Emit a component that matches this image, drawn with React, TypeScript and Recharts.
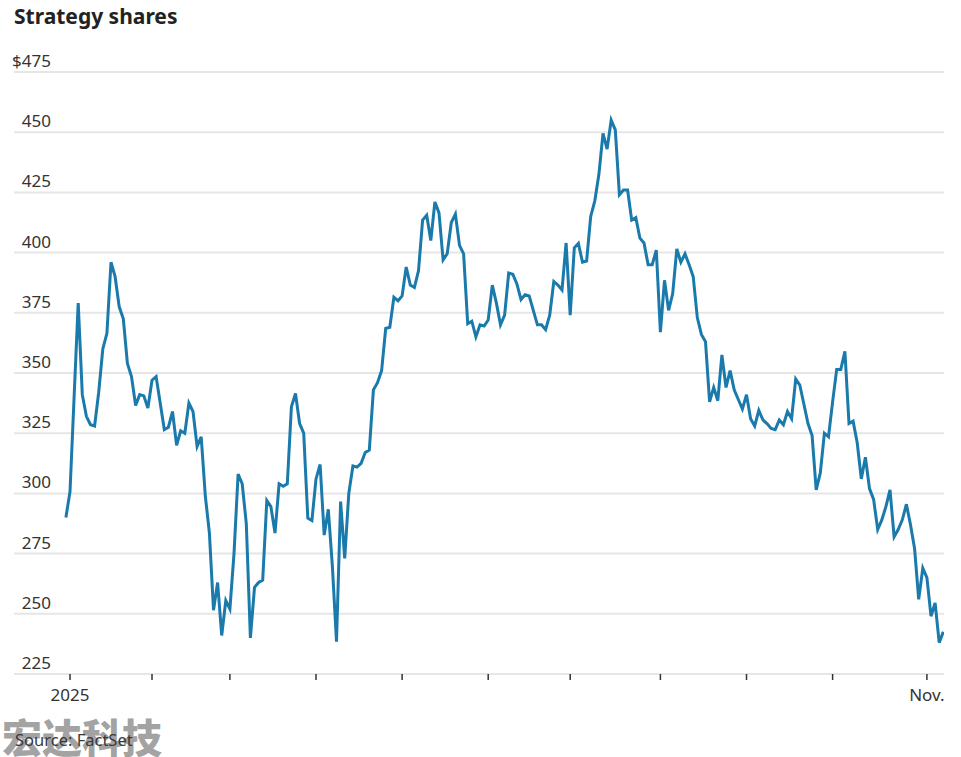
import React from 'react';
import { LineChart, Line, XAxis, YAxis, CartesianGrid } from 'recharts';

// daily closes, Dec 31 2024 through early Nov 2025
const prices = [
  290, 300.7, 340, 379, 341, 332, 328.5, 328, 342, 360,
  366.5, 396, 390, 377.5, 372.5, 354, 348.5, 336.5, 341, 340.5,
  335.5, 347, 348.5, 337.5, 326.5, 327.5, 334, 320, 326, 325,
  337.5, 334, 319.5, 323.5, 299, 283.5, 251.5, 263, 241, 255.5,
  252, 275, 308, 304, 287.5, 240, 261, 263, 264, 297,
  294.5, 283.5, 304, 303, 304, 336, 341.5, 329, 325, 289.7,
  288.7, 306, 312, 282.7, 293.4, 269.6, 238.4, 296.6, 273, 300,
  311.4, 310.9, 312.5, 317, 318, 343, 346, 351, 368.5, 369,
  381.5, 380, 382, 394, 386.5, 385.5, 392.5, 413.5, 415.5, 405,
  421, 416.5, 397, 399.5, 412.5, 416, 403, 399.5, 370.5, 371.5,
  365, 370, 369.5, 372, 386.5, 379, 370, 374, 391.5, 391,
  387, 380.5, 382.5, 382, 376, 370, 370, 368, 374, 388,
  386.5, 384.5, 404, 374, 402, 403.8, 396, 396.5, 415, 421.5,
  432.5, 449.5, 443, 455, 451, 424, 426, 426, 413.5, 414.5,
  406, 404, 395, 395, 401, 367, 388.5, 376, 383, 401.5,
  396, 399.5, 395, 390, 373, 366, 363, 338, 344, 338.5,
  357.5, 344, 351, 343, 339, 335, 341, 331, 328, 334.5,
  330.5, 329, 327, 326.5, 330.5, 328.5, 334, 331, 347.5, 345,
  337, 329, 324, 301.5, 308.5, 325, 323.5, 338, 351.5, 351.5,
  359, 329, 330, 321, 306, 315, 302, 297.5, 285, 289,
  294.5, 301.5, 282, 285, 289, 295.5, 287, 277, 256, 269,
  265, 249, 254.5, 238, 242.5,
];

// first trading day of each month, as index into prices
const monthTicks = [1, 21, 40, 61, 82, 103, 123, 145, 166, 187, 210];
const monthLabels = ['2025', '', '', '', '', '', '', '', '', '', 'Nov.'];

const yTicks = [225, 250, 275, 300, 325, 350, 375, 400, 425, 450, 475];

const data = prices.map((price, i) => ({ i, price }));

const tickFont = "'Noto Sans', sans-serif";

const YTick = (props: any) => {
  const { y, payload } = props;
  const v = payload.value;
  return (
    <text x={51} y={y - 5} textAnchor="end" fill="#333" fontSize={17} fontFamily={tickFont}>
      {v === 475 ? '$475' : v}
    </text>
  );
};

const XTick = (props: any) => {
  const { x, y, payload } = props;
  const idx = monthTicks.indexOf(payload.value);
  const label = monthLabels[idx] || '';
  return (
    <text x={x} y={y + 19} textAnchor="middle" fill="#333" fontSize={17} fontFamily={tickFont}>
      {label}
    </text>
  );
};

export default function App() {
  return (
    <div style={{ position: 'absolute', top: 0, left: 0, width: 961, height: 757, background: '#fff' }}>
      <div
        style={{
          position: 'absolute', left: 14, top: 2, fontSize: 21, fontWeight: 700,
          color: '#222', fontFamily: "'Noto Sans', sans-serif",
        }}
      >
        Strategy shares
      </div>
      <LineChart
        width={961}
        height={757}
        data={data}
        margin={{ top: 72, right: 17, left: 13, bottom: 53 }}
      >
        <CartesianGrid vertical={false} stroke="#e6e6e6" strokeWidth={2} />
        <XAxis
          type="number"
          dataKey="i"
          domain={[-12.66, 214.17]}
          allowDataOverflow
          ticks={monthTicks}
          interval={0}
          axisLine={false}
          tickLine={{ stroke: '#333', strokeWidth: 1.5 }}
          tickSize={6}
          height={30}
          tick={<XTick />}
        />
        <YAxis
          domain={[225, 475]}
          ticks={yTicks}
          interval={0}
          width={1}
          axisLine={false}
          tickLine={false}
          tick={(p: any) => <YTick {...p} />}
        />
        <Line
          type="linear"
          dataKey="price"
          stroke="#1a7aab"
          strokeWidth={3}
          dot={false}
          isAnimationActive={false}
        />
      </LineChart>
      <div
        style={{
          position: 'absolute', left: 2, top: 712, fontSize: 40, fontWeight: 900,
          color: '#a3a3a3', fontFamily: "'Noto Sans CJK SC', sans-serif", lineHeight: '48px',
        }}
      >
        宏达科技
      </div>
      <div
        style={{
          position: 'absolute', left: 15, top: 728, fontSize: 16.5,
          color: '#3a3a3a', fontFamily: "'Noto Sans', sans-serif",
        }}
      >
        Source: FactSet
      </div>
    </div>
  );
}
